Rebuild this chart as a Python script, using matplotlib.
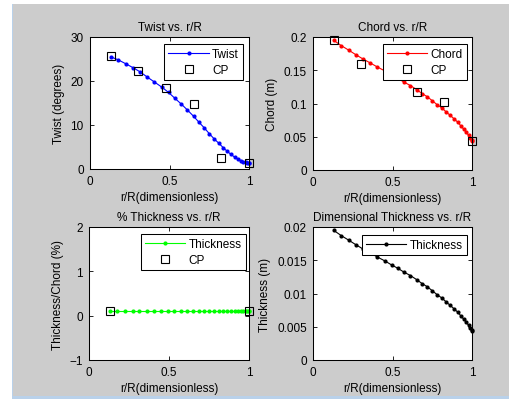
import matplotlib
matplotlib.use("Agg")
import matplotlib.pyplot as plt
from matplotlib.patches import Rectangle

plt.rcParams['font.family'] = ['Liberation Sans', 'DejaVu Sans']

# ---- data ----
r_over_R = [0.130, 0.178, 0.226, 0.272, 0.314, 0.360, 0.404, 0.452, 0.494, 0.533,
            0.573, 0.613, 0.651, 0.686, 0.720, 0.751, 0.782, 0.812, 0.839, 0.864,
            0.887, 0.910, 0.931, 0.950, 0.964, 0.979, 0.990, 0.997, 1.000]
twist = [25.5, 24.8, 23.9, 23.0, 22.1, 20.9, 19.8, 18.6, 17.4, 16.1,
         14.8, 13.4, 12.0, 10.6, 9.3, 8.0, 6.8, 5.8, 4.8, 4.0,
         3.3, 2.7, 2.2, 1.9, 1.7, 1.5, 1.4, 1.35, 1.3]
chord = [0.195, 0.187, 0.180, 0.173, 0.167, 0.161, 0.155, 0.149, 0.143, 0.138,
         0.132, 0.127, 0.121, 0.115, 0.110, 0.104, 0.098, 0.093, 0.087, 0.082,
         0.077, 0.072, 0.066, 0.061, 0.057, 0.052, 0.048, 0.045, 0.043]
pct_thickness = [0.1] * 29
thickness = [0.0195, 0.0187, 0.0180, 0.0173, 0.0167, 0.0161, 0.0155, 0.0149, 0.0143, 0.0138,
             0.0132, 0.0127, 0.0121, 0.0115, 0.0110, 0.0104, 0.0098, 0.0093, 0.0087, 0.0082,
             0.0077, 0.0072, 0.0066, 0.0061, 0.0057, 0.0052, 0.0048, 0.0045, 0.0043]

cp_r = [0.13, 0.304, 0.478, 0.652, 0.826, 1.0]
cp_twist = [25.6, 22.3, 18.5, 14.7, 2.4, 1.4]
cp_chord = [0.195, 0.160, 0.150, 0.117, 0.102, 0.0433]
cp_pct_r = [0.13, 1.0]
cp_pct = [0.1, 0.1]

xticks = [0, 0.5, 1]
xticklabels = ['0', '0.5', '1']

W, H = 509, 410
fig = plt.figure(figsize=(W / 100, H / 100), dpi=100, facecolor='white')

# window background
fig.patches.append(Rectangle((12 / W, 1 - 400 / H), (W - 12) / W, 395 / H,
                             transform=fig.transFigure, facecolor='#b9d1ea',
                             edgecolor='none', zorder=-3))
fig.patches.append(Rectangle((13 / W, 1 - 397 / H), (W - 13) / W, 392 / H,
                             transform=fig.transFigure, facecolor='#cccccc',
                             edgecolor='none', zorder=-2))

FS = 8.5


def make_ax(l, t, r, b):
    ax = fig.add_axes([l / W, 1 - b / H, (r - l) / W, (b - t) / H])
    ax.set_facecolor('white')
    for s in ax.spines.values():
        s.set_linewidth(0.75)
        s.set_color('black')
    ax.tick_params(direction='in', top=True, right=True, length=2.8, width=0.6,
                   labelsize=FS, pad=4.5, colors='black')
    ax.set_xlim(0, 1)
    ax.set_xticks(xticks)
    ax.set_xticklabels(xticklabels)
    ax.set_xlabel('r/R(dimensionless)', fontsize=FS, labelpad=3)
    return ax


def add_legend(ax, dx, dy, w, h):
    leg = ax.legend(loc='upper right', bbox_to_anchor=(1 - dx / w, 1 - dy / h),
                    borderaxespad=0, fontsize=FS, fancybox=False, framealpha=1,
                    edgecolor='black', borderpad=0.35, labelspacing=0.3,
                    handlelength=3.4, handletextpad=0.3, numpoints=1)
    leg.get_frame().set_linewidth(0.75)
    leg.set_zorder(5)
    return leg


line_kw = dict(marker='o', markersize=3.0, markeredgewidth=0, linewidth=0.8,
               clip_on=False)
cp_kw = dict(linestyle='none', marker='s', markersize=5.3, markerfacecolor='none',
             markeredgecolor='black', markeredgewidth=0.8, clip_on=False)

# Twist
ax1 = make_ax(90, 38, 249, 170)
ax1.plot(r_over_R, twist, color='blue', label='Twist', **line_kw)
ax1.plot(cp_r, cp_twist, label='CP', **cp_kw)
ax1.set_ylim(0, 30)
ax1.set_yticks([0, 10, 20, 30])
ax1.set_ylabel('Twist (degrees)', fontsize=FS, labelpad=4)
ax1.set_title('Twist vs. r/R', fontsize=FS, pad=5)
add_legend(ax1, 6, 7, 159, 132)

# Chord
ax2 = make_ax(313, 38, 472, 171)
ax2.plot(r_over_R, chord, color='red', label='Chord', **line_kw)
ax2.plot(cp_r, cp_chord, label='CP', **cp_kw)
ax2.set_ylim(0, 0.2)
ax2.set_yticks([0, 0.05, 0.1, 0.15, 0.2])
ax2.set_yticklabels(['0', '0.05', '0.1', '0.15', '0.2'])
ax2.set_ylabel('Chord (m)', fontsize=FS, labelpad=4)
ax2.set_title('Chord vs. r/R', fontsize=FS, pad=5)
add_legend(ax2, 5, 7, 159, 133)

# % thickness
ax3 = make_ax(89, 228, 249, 361)
ax3.plot(r_over_R, pct_thickness, color='#00ff00', label='Thickness', **line_kw)
ax3.plot(cp_pct_r, cp_pct, label='CP', **cp_kw)
ax3.set_ylim(-1, 2)
ax3.set_yticks([-1, 0, 1, 2])
ax3.set_ylabel('Thickness/Chord (%)', fontsize=FS, labelpad=4)
ax3.set_title('% Thickness vs. r/R', fontsize=FS, pad=5)
add_legend(ax3, 3, 7, 160, 133)

# Dimensional thickness
ax4 = make_ax(313, 228, 472, 361)
ax4.plot(r_over_R, thickness, color='black', label='Thickness', **line_kw)
ax4.set_ylim(0, 0.02)
ax4.set_yticks([0, 0.005, 0.01, 0.015, 0.02])
ax4.set_yticklabels(['0', '0.005', '0.01', '0.015', '0.02'])
ax4.set_ylabel('Thickness (m)', fontsize=FS, labelpad=4)
ax4.set_title('Dimensional Thickness vs. r/R', fontsize=FS, pad=5)
add_legend(ax4, 5, 8, 159, 133)

fig.savefig('out.png', dpi=100, facecolor=fig.get_facecolor())
